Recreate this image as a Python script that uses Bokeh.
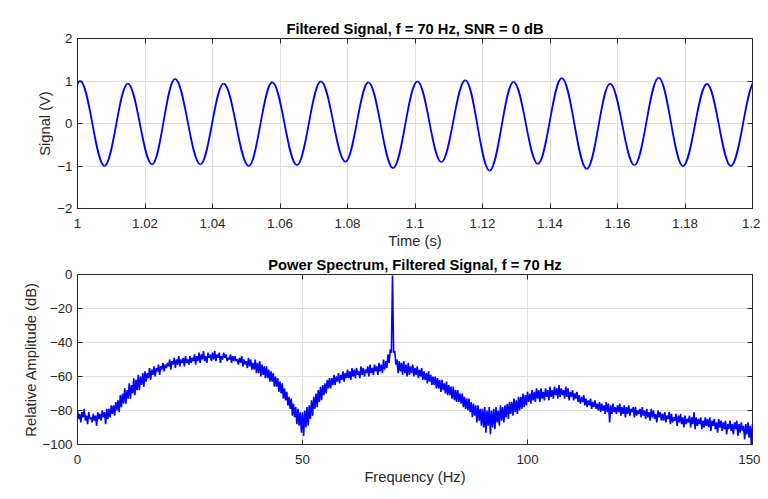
import numpy as np
from bokeh.plotting import figure
from bokeh.layouts import column
from bokeh.models import FixedTicker, CustomJSTickFormatter, LinearAxis, Range1d
from bokeh.embed import file_html
from bokeh.resources import INLINE

# ---------------- data ----------------
# Filtered signal: local extrema (time in s, value in V)
extrema_time_s = [0.9937, 1.0008, 1.0080, 1.0149, 1.0221, 1.0289, 1.0364, 1.0433,
                  1.0507, 1.0577, 1.0650, 1.0721, 1.0794, 1.0862, 1.0935, 1.1007,
                  1.1078, 1.1149, 1.1221, 1.1292, 1.1364, 1.1435, 1.1509, 1.1578,
                  1.1650, 1.1722, 1.1794, 1.1865, 1.1936, 1.2008]
extrema_signal_v = [-1.00, 1.00, -1.00, 0.94, -0.965, 1.05, -0.965, 0.94,
                    -1.00, 0.97, -0.98, 0.99, -0.90, 0.97, -1.05, 0.99,
                    -0.91, 1.02, -1.11, 0.98, -0.95, 1.07, -1.07, 0.94,
                    -0.98, 1.08, -1.00, 0.93, -1.00, 1.00]
time_ticks = [1.0, 1.02, 1.04, 1.06, 1.08, 1.1, 1.12, 1.14, 1.16, 1.18, 1.2]
signal_ticks = [-2, -1, 0, 1, 2]

# Power spectrum (dB). The trace alternates between samples on the upper side
# of its noise band (at 0, 0.5, ..., 150 Hz; the 70 Hz sample is the tone)
# and samples on the lower side (at 0.25, 0.75, ..., 149.75 Hz).
spectrum_upper_db = [
    -80, -82, -81, -79, -83, -81, -84, -82, -83, -81,   # 0 - 4.5 Hz
    -82, -80, -81, -79, -79, -77, -77, -75, -74, -71,   # 5 - 9.5
    -70, -67, -68, -64, -65, -61, -62, -59, -60, -58,   # 10 - 14.5
    -57, -58, -55, -56, -54, -55, -53, -54, -52, -53,   # 15 - 19.5
    -52, -50, -51, -49, -50, -48, -50, -49, -48, -50,   # 20 - 24.5
    -48, -49, -47, -48, -46, -47, -45, -48, -46, -47,   # 25 - 29.5
    -46, -45, -47, -46, -48, -46, -47, -49, -47, -48,   # 30 - 34.5
    -48, -50, -49, -48, -50, -51, -49, -50, -52, -50,   # 35 - 39.5
    -52, -51, -53, -54, -54, -56, -57, -58, -60, -61,   # 40 - 44.5
    -63, -64, -67, -69, -72, -73, -76, -78, -79, -81,   # 45 - 49.5
    -81, -80, -78, -77, -74, -72, -70, -68, -66, -65,   # 50 - 54.5
    -64, -62, -61, -61, -59, -60, -58, -59, -57, -58,   # 55 - 59.5
    -56, -57, -55, -56, -55, -57, -54, -55, -56, -54,   # 60 - 64.5
    -53, -55, -53, -54, -52, -53, -50, -51, -47, -44,   # 65 - 69.5
    -0.6, -45, -50, -51, -52, -51, -53, -52, -54, -53,  # 70 - 74.5
    -55, -54, -56, -55, -57, -58, -57, -59, -60, -60,   # 75 - 79.5
    -61, -62, -62, -64, -63, -65, -66, -66, -68, -68,   # 80 - 84.5
    -70, -70, -72, -73, -73, -75, -76, -77, -77, -79,   # 85 - 89.5
    -79, -78, -80, -78, -80, -79, -78, -80, -77, -78,   # 90 - 94.5
    -77, -76, -75, -75, -73, -74, -72, -72, -70, -71,   # 95 - 99.5
    -69, -70, -68, -69, -67, -68, -67, -69, -67, -68,   # 100 - 104.5
    -66, -68, -66, -67, -65, -67, -68, -66, -67, -69,   # 105 - 109.5
    -68, -70, -69, -71, -72, -71, -73, -74, -73, -75,   # 110 - 114.5
    -74, -76, -75, -76, -77, -75, -76, -77, -76, -78,   # 115 - 119.5
    -77, -76, -78, -77, -78, -77, -79, -78, -78, -80,   # 120 - 124.5
    -79, -78, -80, -79, -81, -79, -80, -82, -80, -81,   # 125 - 129.5
    -82, -81, -83, -81, -82, -84, -82, -83, -82, -84,   # 130 - 134.5
    -83, -85, -83, -84, -81, -84, -85, -84, -86, -84,   # 135 - 139.5
    -85, -84, -86, -85, -87, -85, -86, -87, -86, -88,   # 140 - 144.5
    -86, -88, -87, -86, -88, -87, -89, -88, -87, -89,   # 145 - 149.5
    -88,                                                # 150
]
spectrum_lower_db = [
    -85, -87, -84, -86, -88, -85, -87, -86, -89, -85,   # 0.25 - 4.75 Hz
    -86, -84, -88, -85, -84, -82, -83, -80, -81, -78,   # 5.25 - 9.75
    -76, -76, -73, -73, -70, -71, -68, -68, -65, -66,   # 10.25 - 14.75
    -63, -61, -62, -59, -60, -57, -59, -56, -57, -55,   # 15.25 - 19.75
    -54, -56, -53, -55, -53, -54, -52, -54, -52, -53,   # 20.25 - 24.75
    -52, -51, -53, -51, -52, -50, -51, -52, -49, -51,   # 25.25 - 29.75
    -50, -51, -49, -52, -50, -49, -51, -50, -52, -51,   # 30.25 - 34.75
    -51, -53, -52, -54, -53, -55, -54, -56, -56, -58,   # 35.25 - 39.75
    -58, -60, -59, -61, -61, -63, -63, -66, -66, -69,   # 40.25 - 44.75
    -70, -73, -74, -77, -79, -83, -84, -88, -89, -93,   # 45.25 - 49.75
    -95, -90, -89, -85, -83, -79, -78, -75, -74, -71,   # 50.25 - 54.75
    -70, -67, -67, -65, -65, -63, -64, -62, -63, -61,   # 55.25 - 59.75
    -61, -62, -60, -61, -59, -61, -59, -60, -58, -60,   # 60.25 - 64.75
    -58, -59, -57, -59, -57, -58, -56, -55, -52, -46,   # 65.25 - 69.75
    -46, -53, -58, -57, -59, -58, -60, -59, -58, -60,   # 70.25 - 74.75
    -59, -61, -60, -62, -62, -64, -63, -65, -65, -67,   # 75.25 - 79.75
    -67, -69, -68, -70, -71, -71, -73, -74, -75, -75,   # 80.25 - 84.75
    -76, -78, -79, -80, -81, -84, -83, -87, -86, -89,   # 85.25 - 89.75
    -90, -93, -89, -94, -90, -91, -87, -89, -86, -87,   # 90.25 - 94.75
    -84, -85, -82, -83, -81, -82, -80, -79, -78, -77,   # 95.25 - 99.75
    -75, -76, -74, -75, -73, -75, -73, -74, -72, -74,   # 100.25 - 104.75
    -72, -73, -71, -73, -72, -71, -73, -72, -74, -72,   # 105.25 - 109.75
    -74, -73, -75, -76, -75, -77, -78, -77, -79, -78,   # 110.25 - 114.75
    -79, -80, -81, -80, -82, -81, -87, -82, -81, -82,   # 115.25 - 119.75
    -81, -83, -82, -84, -82, -83, -81, -84, -83, -82,   # 120.25 - 124.75
    -84, -83, -85, -84, -86, -84, -85, -87, -84, -86,   # 125.25 - 129.75
    -86, -87, -85, -88, -87, -86, -89, -87, -88, -90,   # 130.25 - 134.75
    -88, -87, -90, -88, -91, -89, -88, -91, -90, -89,   # 135.25 - 139.75
    -90, -92, -89, -91, -93, -90, -92, -91, -94, -91,   # 140.25 - 144.75
    -92, -94, -91, -95, -93, -92, -97, -94, -96, -100,  # 145.25 - 149.75
]
freq_ticks = [0, 50, 100, 150]
db_ticks = [-100, -80, -60, -40, -20, 0]

# ---------------- styling ----------------
FONT = "Liberation Sans"
AX = "#262626"
GRID = "#dedede"
BLUE = "#0000ff"


def style(p, xticks, yticks, xfmt, xlabel, ylabel, title):
    p.title.text = title
    p.title.align = "center"
    p.title.text_font = FONT
    p.title.text_font_size = "14.7px"
    p.title.text_font_style = "bold"
    p.title.text_color = "#000000"
    p.title.standoff = 4
    p.outline_line_color = AX
    p.outline_line_width = 1
    p.background_fill_color = "white"
    p.border_fill_color = "white"
    for ax, ticks in ((p.xaxis[0], xticks), (p.yaxis[0], yticks)):
        ax.ticker = FixedTicker(ticks=ticks)
        ax.major_tick_in = 5
        ax.major_tick_out = 0
        ax.minor_tick_line_color = None
        ax.major_tick_line_color = AX
        ax.axis_line_color = None
        ax.major_label_text_font = FONT
        ax.major_label_text_font_size = "13.3px"
        ax.major_label_text_color = AX
        ax.axis_label_text_font = FONT
        ax.axis_label_text_font_size = "14.7px"
        ax.axis_label_text_font_style = "normal"
        ax.axis_label_text_color = AX
    p.xaxis[0].major_label_standoff = 10
    p.xaxis[0].axis_label_standoff = 2
    p.yaxis[0].major_label_standoff = 5
    p.yaxis[0].axis_label_standoff = 1
    p.xaxis[0].formatter = xfmt
    p.xaxis[0].axis_label = xlabel
    p.yaxis[0].axis_label = ylabel
    p.xgrid[0].ticker = FixedTicker(ticks=xticks)
    p.ygrid[0].ticker = FixedTicker(ticks=yticks)
    for g in (p.xgrid[0], p.ygrid[0]):
        g.grid_line_color = GRID
        g.grid_line_width = 1
    # box ticks on the top and right sides
    blank = CustomJSTickFormatter(code="return '';")
    top = LinearAxis(ticker=FixedTicker(ticks=xticks), formatter=blank,
                     major_tick_in=5, major_tick_out=0, minor_tick_line_color=None,
                     major_tick_line_color=AX, axis_line_color=None,
                     major_label_standoff=0)
    right = LinearAxis(ticker=FixedTicker(ticks=yticks), formatter=blank,
                       major_tick_in=5, major_tick_out=0, minor_tick_line_color=None,
                       major_tick_line_color=AX, axis_line_color=None,
                       major_label_standoff=0)
    p.add_layout(top, "above")
    p.add_layout(right, "right")


# ---------------- top: filtered signal ----------------
p1 = figure(width=760, height=252, output_backend="svg", toolbar_location=None,
            x_range=Range1d(1.0, 1.2), y_range=Range1d(-2, 2),
            min_border_left=77, min_border_right=8, min_border_top=38, min_border_bottom=44)
t = np.array(extrema_time_s)
v = np.array(extrema_signal_v)
dt = np.diff(t)
k = 1.0 - 2.0 / np.pi  # cubic Bezier handle that matches a cosine half-cycle
p1.bezier(x0=t[:-1], y0=v[:-1], x1=t[1:], y1=v[1:],
          cx0=t[:-1] + k * dt, cy0=v[:-1], cx1=t[1:] - k * dt, cy1=v[1:],
          line_color=BLUE, line_width=1.8)
fmt1 = CustomJSTickFormatter(code="return String(Number(tick.toFixed(2)));")
style(p1, time_ticks, signal_ticks, fmt1, "Time (s)", "Signal (V)",
      "Filtered Signal, f = 70 Hz, SNR = 0 dB")

# ---------------- bottom: power spectrum ----------------
p2 = figure(width=760, height=237, output_backend="svg", toolbar_location=None,
            x_range=Range1d(0, 150), y_range=Range1d(-100, 0),
            min_border_left=77, min_border_right=8, min_border_top=22, min_border_bottom=45)
fu = np.arange(len(spectrum_upper_db)) * 0.5
fl = np.arange(len(spectrum_lower_db)) * 0.5 + 0.25
xs = np.empty(len(fu) + len(fl))
ys = np.empty(len(fu) + len(fl))
xs[0::2] = fu
xs[1::2] = fl
ys[0::2] = spectrum_upper_db
ys[1::2] = spectrum_lower_db
p2.line(xs, ys, line_color=BLUE, line_width=1.6)
fmt2 = CustomJSTickFormatter(code="return String(tick);")
style(p2, freq_ticks, db_ticks, fmt2, "Frequency (Hz)", "Relative Amplitude (dB)",
      "Power Spectrum, Filtered Signal, f = 70 Hz")

layout = column(p1, p2, spacing=0)
open("out.html", "w").write(file_html(layout, INLINE))
